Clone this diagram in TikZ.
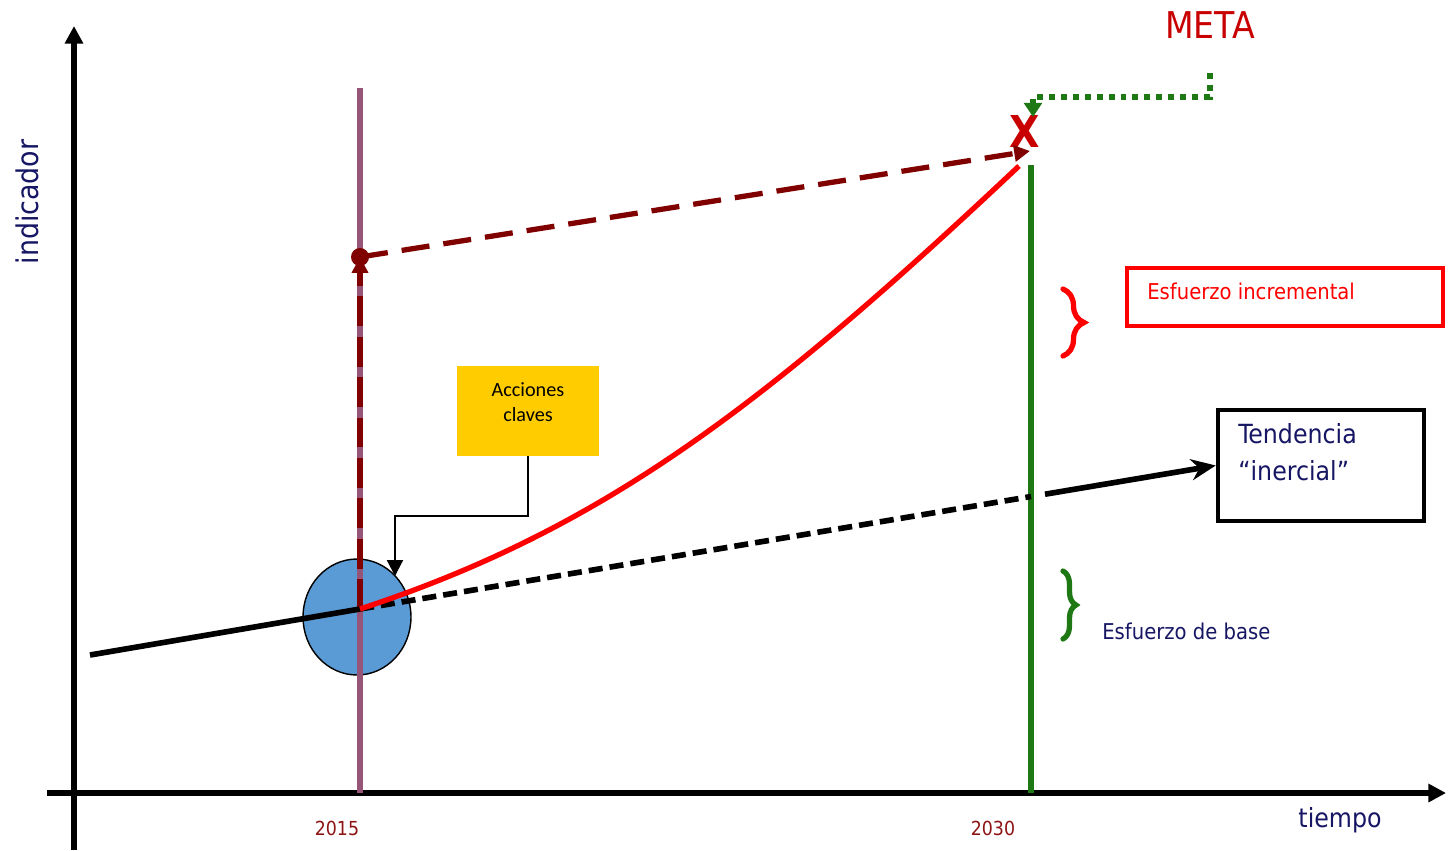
\documentclass[tikz,border=0pt]{standalone}
\usepackage{fontspec}
\setmainfont{DejaVu Sans Condensed}
\newfontfamily\calibrifont{Carlito}
\usepackage{tikz}
\usetikzlibrary{arrows.meta}
\usetikzlibrary{shapes.geometric}
\usetikzlibrary{decorations.pathreplacing}

\definecolor{navytext}{RGB}{22,22,100}
\definecolor{darkred}{RGB}{128,0,0}
\definecolor{yearred}{RGB}{140,20,20}
\definecolor{metared}{RGB}{200,0,0}
\definecolor{mauve}{RGB}{150,84,120}
\definecolor{darkgreen}{RGB}{30,120,20}
\definecolor{circblue}{RGB}{91,155,213}
\definecolor{gold}{RGB}{255,204,0}

\newcommand{\fsz}[1]{\fontsize{#1}{1.4\dimexpr #1pt\relax}\selectfont}

\tikzset{
  axis/.style={line width=3pt, -{Triangle[length=10pt,width=10pt]}},
  yearlabel/.style={text=yearred, font=\fsz{11}},
  navylabel/.style={text=navytext, font=\fsz{15}},
  darkdash/.style={darkred, line width=3pt, dash pattern=on 16pt off 8pt},
  bracepath/.style={decorate, line width=3pt, line cap=round},
}

\begin{document}
\begin{tikzpicture}[x=0.02cm, y=-0.02cm]
      \useasboundingbox (0,0) rectangle (1448,850);

      \coordinate (yfoot) at (74,850);
      \coordinate (ytop) at (74,26);
      \coordinate (xfoot) at (47,793);
      \coordinate (xtop) at (1446,793);
      \draw[axis] (yfoot) -- (ytop);
      \draw[axis] (xfoot) -- (xtop);

      \node[navylabel, font=\fsz{17}, rotate=90] (indic) at (27,202) {indicador};
      \node[navylabel] (tiempo) at (1340,820) {tiempo};
      \node[yearlabel] (y2015) at (337,828) {2015};
      \node[yearlabel] (y2030) at (993,828) {2030};

      \node[ellipse, draw, thick, fill=circblue, inner sep=0,
            minimum width=2.16cm, minimum height=2.32cm] (circ) at (357,617) {};

      \coordinate (mtop) at (360,88);
      \coordinate (mbot) at (360,793);
      \draw[mauve, line width=3.3pt] (mtop) -- (mbot);
      \coordinate (gtop) at (1031,165);
      \coordinate (gbot) at (1031,793);
      \draw[darkgreen, line width=3.3pt] (gtop) -- (gbot);

      \coordinate (base) at (360,609);
      \coordinate (dot) at (360,257);
      \draw[darkdash, dash pattern=on 17pt off 6pt, -{Triangle[length=9pt,width=9pt]}] (base) -- (dot);
      \fill[darkred] (dot) circle (9);

      \node[text=metared, font=\fsz{25}\bfseries, inner sep=0] (xmark) at (1025,131) {X};
      \coordinate (xtip) at (1030,151);
      \draw[darkdash, -{Triangle[length=9pt,width=9pt]}] (dot) -- (xtip);

      \node[text=metared, font=\fsz{21}] (meta) at (1210,25) {META};
      \coordinate (gstart) at (1210,73);
      \coordinate (gtip) at (1033,117);
      \draw[darkgreen, line width=3.4pt, dash pattern=on 3.4pt off 3.4pt,
            -{Triangle[length=8pt,width=10pt]}] (gstart) -- ++(0,24) -| (gtip);

      \coordinate (tstart) at (90,655);
      \coordinate (tdash) at (1031,496.5);
      \coordinate (tsolid) at (1045,494.2);
      \draw[line width=3.2pt] (tstart) -- (base);
      \draw[line width=3.2pt, dash pattern=on 8pt off 4pt] (base) -- (tdash);

      \node[draw, line width=2.6pt, minimum width=4.12cm, minimum height=2.22cm,
            inner sep=0] (tendbox) at (1321,465.5) {};
      \node[navylabel, anchor=north west, align=left, inner sep=0] (tendtxt) at (1238,423)
            {Tendencia\\``inercial''};
      \draw[line width=3.2pt, -{Stealth[length=14pt,width=12pt]}] (tsolid) -- (tendbox.west);

      \coordinate (rend) at (1019,166);
      \draw[red, line width=3pt] (base) .. controls (600,530) and (760,410) .. (rend);

      \node[fill=gold, minimum width=2.84cm, minimum height=1.8cm, inner sep=0] (acc) at (528,411) {};
      \node[font=\calibrifont\fsz{11.5}, align=center, inner sep=0] (acctxt) at (528,402)
            {Acciones\\[-2pt]claves};
      \coordinate (acctip) at (395,576);
      \draw[line width=1.2pt, -{Triangle[length=9pt,width=9pt]}] (acc.south) -- ++(0,60) -| (acctip);

      \node[draw=red, line width=2.6pt, minimum width=6.32cm, minimum height=1.16cm,
            inner sep=0] (incbox) at (1285,297) {};
      \node[text=red, font=\fsz{12.4}, anchor=west, inner sep=0] (inctxt) at (1147,291)
            {Esfuerzo incremental};
      \coordinate (rb1) at (1063,289);
      \coordinate (rb2) at (1063,356);
      \draw[red, bracepath, decoration={brace, amplitude=0.42cm}] (rb1) -- (rb2);

      \coordinate (gb1) at (1063,571);
      \coordinate (gb2) at (1063,639);
      \draw[darkgreen, bracepath, decoration={brace, amplitude=0.26cm}] (gb1) -- (gb2);
      \node[text=navytext, font=\fsz{12.4}, anchor=west, inner sep=0] (basetxt) at (1102,631)
            {Esfuerzo de base};
\end{tikzpicture}
\end{document}
